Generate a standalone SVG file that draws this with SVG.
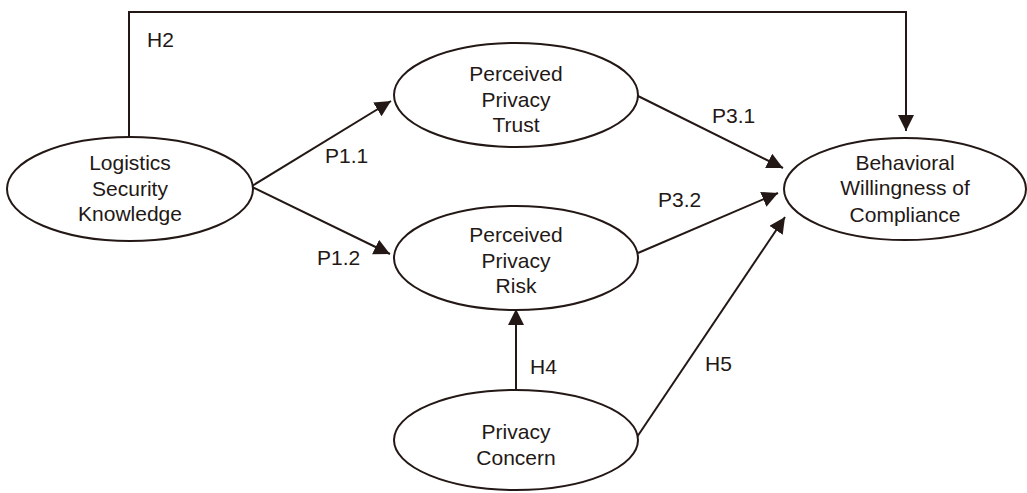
<svg xmlns="http://www.w3.org/2000/svg" width="1027" height="493" viewBox="0 0 1027 493">
<style>
.n{fill:#fff;stroke:#231815;stroke-width:2}
.c{fill:none;stroke:#231815;stroke-width:2}
text{font-family:"Liberation Sans","Noto Sans",sans-serif;font-size:21px;fill:#231815}
.t{text-anchor:middle}
</style>
<defs>
<marker id="ah" markerUnits="userSpaceOnUse" markerWidth="18" markerHeight="18" refX="16" refY="8" orient="auto">
<path d="M0,0 L16,8 L0,16 z" fill="#231815"/>
</marker>
</defs>
<rect width="1027" height="493" fill="#fff"/>
<g id="connectors">
<path class="c" d="M129,137 V12 H906 V131" marker-end="url(#ah)"/>
<path class="c" d="M252,186 L391,101" marker-end="url(#ah)"/>
<path class="c" d="M252,187 L390,254" marker-end="url(#ah)"/>
<path class="c" d="M638,96 L783,168" marker-end="url(#ah)"/>
<path class="c" d="M638,253 L778,193" marker-end="url(#ah)"/>
<path class="c" d="M637,437 L785,217" marker-end="url(#ah)"/>
<path class="c" d="M516,391 V309" marker-end="url(#ah)"/>
<text x="147" y="47">H2</text>
<text x="325" y="163">P1.1</text>
<text x="317" y="265">P1.2</text>
<text x="712" y="123">P3.1</text>
<text x="658" y="207">P3.2</text>
<text x="530" y="374">H4</text>
<text x="705" y="371">H5</text>
</g>
<g id="lsk">
<ellipse class="n" cx="130" cy="189" rx="123" ry="52"/>
<text class="t" x="130" y="170">Logistics</text>
<text class="t" x="130" y="196">Security</text>
<text class="t" x="130" y="221">Knowledge</text>
</g>
<g id="ppt">
<ellipse class="n" cx="516" cy="95" rx="122" ry="52"/>
<text class="t" x="516" y="81">Perceived</text>
<text class="t" x="516" y="107">Privacy</text>
<text class="t" x="516" y="132">Trust</text>
</g>
<g id="ppr">
<ellipse class="n" cx="516" cy="258" rx="122" ry="52"/>
<text class="t" x="516" y="242">Perceived</text>
<text class="t" x="516" y="268">Privacy</text>
<text class="t" x="516" y="293">Risk</text>
</g>
<g id="pc">
<ellipse class="n" cx="516" cy="440" rx="122" ry="50"/>
<text class="t" x="516" y="439">Privacy</text>
<text class="t" x="516" y="465">Concern</text>
</g>
<g id="bwc">
<ellipse class="n" cx="905" cy="189" rx="121" ry="51"/>
<text class="t" x="905" y="170">Behavioral</text>
<text class="t" x="905" y="195">Willingness of</text>
<text class="t" x="905" y="222">Compliance</text>
</g>
</svg>
